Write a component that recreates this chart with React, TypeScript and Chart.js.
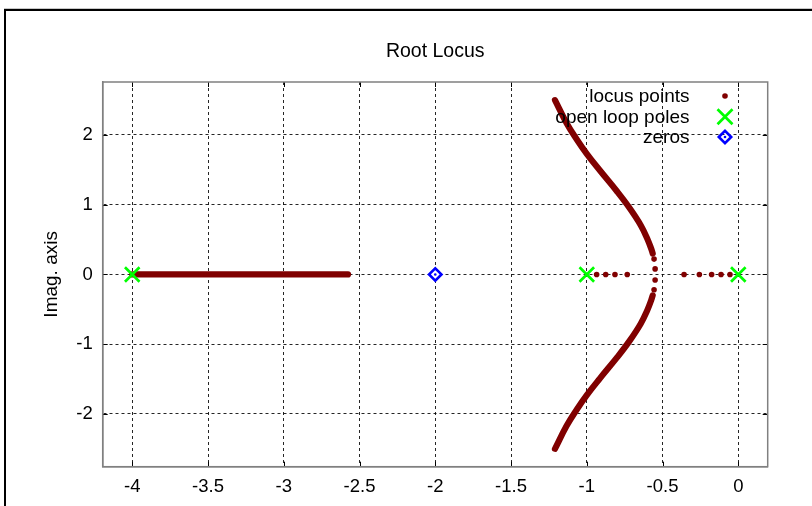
import { useEffect, useRef } from 'react';
import { Chart, registerables } from 'chart.js';

Chart.register(...registerables);

// ---------- data ----------
const TITLE = 'Root Locus';
const Y_TITLE = 'Imag. axis';

const X_TICKS = [-4, -3.5, -3, -2.5, -2, -1.5, -1, -0.5, 0];
const X_TICK_LABELS = ['-4', '-3.5', '-3', '-2.5', '-2', '-1.5', '-1', '-0.5', '0'];
const Y_TICKS = [-2, -1, 0, 1, 2];
const Y_TICK_LABELS = ['-2', '-1', '0', '1', '2'];

const LEGEND_LABELS = ['locus points', 'open loop poles', 'zeros'];

// open loop poles
const POLE_RE = [-4, -1, 0];
const POLE_IM = [0, 0, 0];
// zeros
const ZERO_RE = [-2];
const ZERO_IM = [0];

// isolated locus points (real axis between -1 and 0, and near breakaway)
const SPARSE_RE = [-0.935, -0.875, -0.814, -0.733, -0.358, -0.257, -0.176, -0.114, -0.055, -0.556, -0.549, -0.549, -0.556];
const SPARSE_IM = [0, 0, 0, 0, 0, 0, 0, 0, 0, 0.22, 0.08, -0.08, -0.22];

// dense real-axis branch from -4 toward the zero
const REAL_BRANCH_RE = [-4, -2.576];
const REAL_BRANCH_IM = [0, 0];

// dense complex branches
const UPPER_RE = [-0.565, -0.575, -0.6, -0.645, -0.72, -0.8, -0.913, -1.0, -1.067, -1.133, -1.21];
const UPPER_IM = [0.3, 0.37, 0.51, 0.71, 0.96, 1.19, 1.49, 1.73, 1.94, 2.17, 2.5];
const LOWER_RE = [-0.565, -0.575, -0.6, -0.645, -0.72, -0.8, -0.913, -1.0, -1.067, -1.133, -1.21];
const LOWER_IM = [-0.3, -0.37, -0.51, -0.71, -0.96, -1.19, -1.49, -1.73, -1.94, -2.17, -2.5];

// ---------- style ----------
const LOCUS_COLOR = '#800000';
const POLE_COLOR = '#00ff00';
const ZERO_COLOR = '#0000ff';
const FONT = "'Liberation Sans', Arial, sans-serif";

const pts = (xs: number[], ys: number[]) => xs.map((x, i) => ({ x, y: ys[i] }));

function drawX(ctx: CanvasRenderingContext2D, x: number, y: number, h: number) {
  ctx.beginPath();
  ctx.moveTo(x - h, y - h);
  ctx.lineTo(x + h, y + h);
  ctx.moveTo(x - h, y + h);
  ctx.lineTo(x + h, y - h);
  ctx.stroke();
}
function drawDiamond(ctx: CanvasRenderingContext2D, x: number, y: number, r: number) {
  ctx.beginPath();
  ctx.moveTo(x - r, y);
  ctx.lineTo(x, y - r);
  ctx.lineTo(x + r, y);
  ctx.lineTo(x, y + r);
  ctx.closePath();
  ctx.stroke();
}

const decorPlugin = {
  id: 'decor',
  beforeDraw(chart: any) {
    const ctx = chart.ctx as CanvasRenderingContext2D;
    ctx.save();
    ctx.fillStyle = '#fff';
    ctx.fillRect(0, 0, chart.width, chart.height);
    // outer frame (cropped)
    ctx.strokeStyle = '#c8c8c8';
    ctx.lineWidth = 1;
    ctx.beginPath();
    ctx.moveTo(4, 8.5);
    ctx.lineTo(chart.width, 8.5);
    ctx.stroke();
    ctx.strokeStyle = '#000';
    ctx.lineWidth = 2;
    ctx.beginPath();
    ctx.moveTo(5, chart.height);
    ctx.lineTo(5, 10);
    ctx.lineTo(chart.width, 10);
    ctx.stroke();
    ctx.restore();
  },
  afterDraw(chart: any) {
    const ctx = chart.ctx as CanvasRenderingContext2D;
    const a = chart.chartArea;
    const xs = chart.scales.x;
    const ys = chart.scales.y;
    ctx.save();
    // tick marks (inward, mirrored)
    ctx.strokeStyle = '#000';
    ctx.lineWidth = 1;
    ctx.beginPath();
    X_TICKS.forEach((v) => {
      const px = Math.round(xs.getPixelForValue(v)) + 0.5;
      ctx.moveTo(px, a.bottom);
      ctx.lineTo(px, a.bottom - 5);
      ctx.moveTo(px, a.top);
      ctx.lineTo(px, a.top + 5);
    });
    Y_TICKS.forEach((v) => {
      const py = Math.round(ys.getPixelForValue(v)) + 0.5;
      ctx.moveTo(a.left, py);
      ctx.lineTo(a.left + 5, py);
      ctx.moveTo(a.right, py);
      ctx.lineTo(a.right - 5, py);
    });
    ctx.stroke();
    // plot box
    ctx.strokeStyle = '#808080';
    ctx.lineWidth = 1.5;
    ctx.strokeRect(a.left, a.top, a.right - a.left, a.bottom - a.top);

    // title
    ctx.fillStyle = '#000';
    ctx.textAlign = 'center';
    ctx.textBaseline = 'middle';
    ctx.font = `19.5px ${FONT}`;
    ctx.fillText(TITLE, (a.left + a.right) / 2, 52);

    // y-axis title
    ctx.save();
    ctx.translate(52, (a.top + a.bottom) / 2);
    ctx.rotate(-Math.PI / 2);
    ctx.font = `19px ${FONT}`;
    ctx.fillText(Y_TITLE, 0, 0);
    ctx.restore();

    // legend
    ctx.font = `19px ${FONT}`;
    ctx.textAlign = 'right';
    ctx.textBaseline = 'middle';
    const rowsY = [96, 116.7, 137];
    const textRight = 689.5;
    const markX = 725;
    LEGEND_LABELS.forEach((lbl, i) => {
      ctx.fillStyle = '#000';
      ctx.fillText(lbl, textRight, rowsY[i] + 1);
    });
    // locus marker
    ctx.fillStyle = LOCUS_COLOR;
    ctx.beginPath();
    ctx.arc(markX, rowsY[0], 2.8, 0, Math.PI * 2);
    ctx.fill();
    // pole marker
    ctx.strokeStyle = POLE_COLOR;
    ctx.lineWidth = 2.7;
    drawX(ctx, markX, rowsY[1], 7.5);
    // zero marker
    ctx.strokeStyle = ZERO_COLOR;
    ctx.lineWidth = 2.6;
    drawDiamond(ctx, markX, rowsY[2], 6.2);
    ctx.fillStyle = ZERO_COLOR;
    ctx.beginPath();
    ctx.arc(markX, rowsY[2], 1.3, 0, Math.PI * 2);
    ctx.fill();
    ctx.restore();
  },
};

export default function App() {
  const ref = useRef<HTMLCanvasElement>(null);
  useEffect(() => {
    document.body.style.margin = '0';
    const denseLine = (data: { x: number; y: number }[], tension: number) => ({
      data,
      showLine: true,
      borderColor: LOCUS_COLOR,
      backgroundColor: LOCUS_COLOR,
      borderWidth: 6.2,
      borderCapStyle: 'round' as const,
      borderJoinStyle: 'round' as const,
      tension,
      pointRadius: 0,
      order: 5,
    });
    const chart = new Chart(ref.current!, {
      type: 'scatter',
      data: {
        datasets: [
          {
            label: LEGEND_LABELS[1],
            data: pts(POLE_RE, POLE_IM),
            pointStyle: 'crossRot',
            pointRadius: 10.3,
            borderColor: POLE_COLOR,
            backgroundColor: POLE_COLOR,
            pointBorderWidth: 2.7,
            order: 0,
          } as any,
          {
            label: LEGEND_LABELS[2],
            data: pts(ZERO_RE, ZERO_IM),
            pointStyle: 'rectRot',
            pointRadius: 6.2,
            borderColor: ZERO_COLOR,
            backgroundColor: '#ffffff',
            pointBorderWidth: 2.6,
            order: 1,
          } as any,
          {
            label: 'zero-center',
            data: pts(ZERO_RE, ZERO_IM),
            pointRadius: 1.3,
            borderWidth: 0,
            backgroundColor: ZERO_COLOR,
            order: 0,
          } as any,
          {
            label: LEGEND_LABELS[0],
            data: pts(SPARSE_RE, SPARSE_IM),
            pointRadius: 2.8,
            pointBorderWidth: 0,
            backgroundColor: LOCUS_COLOR,
            borderColor: LOCUS_COLOR,
            order: 4,
          } as any,
          denseLine(pts(REAL_BRANCH_RE, REAL_BRANCH_IM), 0) as any,
          denseLine(pts(UPPER_RE, UPPER_IM), 0.4) as any,
          denseLine(pts(LOWER_RE, LOWER_IM), 0.4) as any,
        ],
      },
      options: {
        responsive: false,
        animation: false,
        events: [],
        layout: { padding: { top: 82, right: 44.3, left: 0, bottom: 0 } },
        plugins: {
          legend: { display: false },
          tooltip: { enabled: false },
          title: { display: false },
        },
        scales: {
          x: {
            type: 'linear',
            min: -4.195,
            max: 0.194,
            afterBuildTicks: (axis: any) => {
              axis.ticks = X_TICKS.map((value) => ({ value }));
            },
            afterFit: (s: any) => {
              s.height = 506 - 466.7;
            },
            grid: { color: 'rgba(0,0,0,0.85)', lineWidth: 1, drawTicks: false },
            border: { display: true, color: '#808080', width: 1.5, dash: [3, 3] },
            ticks: {
              color: '#000',
              font: { family: FONT, size: 18.5 },
              padding: 9,
              autoSkip: false,
              maxRotation: 0,
              callback: (v: any) => {
                const i = X_TICKS.findIndex((t) => Math.abs(t - Number(v)) < 1e-9);
                return i >= 0 ? X_TICK_LABELS[i] : '';
              },
            },
          },
          y: {
            type: 'linear',
            min: -2.757,
            max: 2.76,
            afterBuildTicks: (axis: any) => {
              axis.ticks = Y_TICKS.map((value) => ({ value }));
            },
            afterFit: (s: any) => {
              s.width = 102.7;
            },
            grid: { color: 'rgba(0,0,0,0.85)', lineWidth: 1, drawTicks: false },
            border: { display: true, color: '#808080', width: 1.5, dash: [3, 3] },
            ticks: {
              color: '#000',
              font: { family: FONT, size: 18.5 },
              padding: 10,
              autoSkip: false,
              callback: (v: any) => {
                const i = Y_TICKS.findIndex((t) => Math.abs(t - Number(v)) < 1e-9);
                return i >= 0 ? Y_TICK_LABELS[i] : '';
              },
            },
          },
        },
      },
      plugins: [decorPlugin],
    });
    return () => chart.destroy();
  }, []);
  return <canvas ref={ref} width={812} height={506} style={{ display: 'block' }} />;
}
